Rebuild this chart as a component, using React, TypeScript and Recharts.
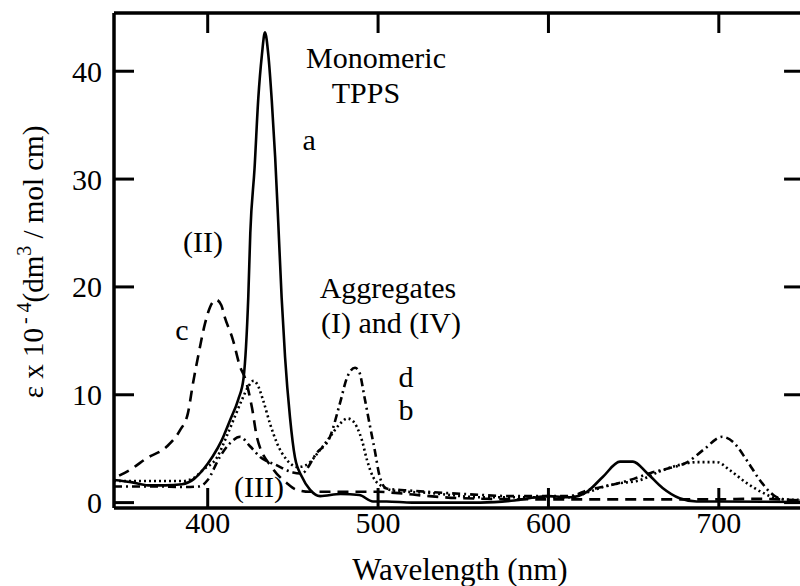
import React from 'react';
import { LineChart, Line, XAxis, YAxis, ReferenceDot, ReferenceLine } from 'recharts';

// ---- data (wavelength in nm, epsilon x 10^-4) ----
const wlA = [345, 355, 365, 375, 385, 392, 397, 403, 408, 413, 418, 421, 422.5, 423.8, 425, 427.5, 429.7, 431.8, 433.6, 435.6, 437.6, 439.6, 441.4, 443.4, 445.4, 448.3, 451.2, 455.3, 460, 466, 478, 489, 497, 505, 520, 560, 580, 593, 600, 612.7, 622.6, 632, 642, 649.6, 657.8, 667, 677, 687, 700, 750];
const epsA = [2.1, 1.9, 1.6, 1.6, 1.7, 2.2, 3.0, 4.3, 5.7, 7.6, 9.6, 11.5, 14.5, 19, 25, 31, 37.5, 41.5, 43.6, 41.5, 37.3, 32, 26, 19, 13.5, 7.9, 4.2, 2.4, 1.2, 0.6, 0.8, 0.7, 0.1, 0.1, 0, 0, 0.2, 0.5, 0.6, 0.5, 1.0, 2.4, 3.8, 3.8, 2.75, 1.35, 0.4, 0.1, 0.1, 0.05];

const wlB = [345, 360, 375, 385, 392, 397, 405.5, 411, 416, 420, 424, 427, 429, 432.5, 436.6, 440.7, 446.5, 453, 458, 466, 471.8, 477.6, 482, 485, 487.6, 490.5, 493.5, 497, 503, 510, 530, 560, 590, 612, 624, 632, 642, 652, 667, 677, 687, 699, 706.5, 716.5, 726, 734, 746, 750];
const epsB = [2.0, 2.0, 2.0, 2.0, 2.3, 3.0, 4.2, 6.1, 8.0, 9.5, 10.8, 11.3, 11.0, 9.5, 7.3, 5.5, 3.95, 3.3, 3.5, 4.9, 6.1, 7.3, 7.8, 7.6, 7.0, 5.8, 3.95, 2.4, 1.45, 1.1, 0.9, 0.5, 0.5, 0.5, 1.0, 1.45, 1.8, 2.0, 3.0, 3.5, 3.75, 3.75, 3.0, 1.8, 0.9, 0.4, 0.25, 0.25];

const wlC = [348, 355, 364, 376, 383.7, 388.4, 391.4, 394.3, 398.4, 401.3, 405, 408, 410, 414.8, 419, 422, 426, 429, 438, 446.5, 452, 460, 480, 500, 510, 530, 550, 600, 650, 700, 720, 750];
const epsC = [2.5, 3.1, 4.1, 5.2, 6.7, 8.3, 11.1, 13.5, 16.6, 18.1, 18.8, 18.3, 17.2, 15.1, 12.6, 11.5, 8.8, 6.0, 3.2, 1.8, 1.2, 1.0, 1.0, 1.0, 0.9, 0.6, 0.4, 0.3, 0.3, 0.3, 0.35, 0.2];

const wlD = [345, 370, 385, 395, 400, 407, 413, 419, 425, 431, 440, 450, 455, 464, 471.8, 477.6, 481.8, 486.5, 489, 492, 495, 498, 501, 505, 520, 550, 580, 600, 612, 624, 636, 650, 660, 671, 681, 691, 702, 708.5, 716.5, 724, 732, 740, 750];
const epsD = [1.5, 1.5, 1.45, 1.5, 2.1, 4.2, 5.5, 6.1, 5.2, 4.2, 3.5, 2.8, 2.7, 4.6, 6.1, 9.2, 11.6, 12.5, 12.1, 9.8, 7.3, 4.9, 2.4, 1.3, 1.1, 0.8, 0.6, 0.6, 0.6, 1.2, 1.6, 2.2, 2.75, 3.2, 3.7, 4.9, 6.1, 5.6, 3.9, 2.1, 0.7, 0.25, 0.2];

const xTicks = [400, 500, 600, 700];
const yTicks = [0, 10, 20, 30, 40];
const X_MIN = 345;
const X_MAX = 750;
const RIGHT_TICK_LEN_NM = 11.7;

const annotationTexts = ['Monomeric', 'TPPS', 'a', '(II)', 'Aggregates', '(I) and (IV)', 'c', 'd', 'b', '(III)'];
const annotationNm = [498.8, 492.9, 459.5, 397.2, 505.8, 507.6, 384.9, 516.4, 516.4, 430.1];
const annotationEps = [40.26, 37.1, 32.66, 23.21, 18.95, 15.71, 15.06, 10.71, 7.65, 0.52];

const build = (xs: number[], ys: number[]) => xs.map((nm, i) => ({ nm, v: ys[i] }));
const dataA = build(wlA, epsA);
const dataB = build(wlB, epsB);
const dataC = build(wlC, epsC);
const dataD = build(wlD, epsD);

// ---- styling ----
const FONT = "'Liberation Serif', 'Times New Roman', Times, serif";
const FS = 30;
const TICK = 20;
const TW = 3;
const AXW = 3.5;

const LeftTick = (p: any) => (
  <g>
    <line x1={p.x} y1={p.y} x2={p.x + TICK} y2={p.y} stroke="#000" strokeWidth={TW} />
    <text x={p.x - 12} y={p.y} dy="0.35em" textAnchor="end" fontSize={FS} fontFamily={FONT} fill="#000">
      {p.payload.value}
    </text>
  </g>
);
const BottomTick = (p: any) => (
  <g>
    <line x1={p.x} y1={p.y} x2={p.x} y2={p.y - TICK} stroke="#000" strokeWidth={TW} />
    <text x={p.x} y={p.y + 25} textAnchor="middle" fontSize={FS} fontFamily={FONT} fill="#000">
      {p.payload.value}
    </text>
  </g>
);
const TopTick = (p: any) => (
  <g>
    <line x1={p.x} y1={p.y} x2={p.x} y2={p.y + TICK} stroke="#000" strokeWidth={TW} />
  </g>
);

const AnnotShape = (text: string) => (p: any) => (
  <text x={p.cx} y={p.cy} textAnchor="middle" fontSize={30} fontFamily={FONT} fill="#000">
    {text}
  </text>
);

const YLabel = () => (
  <text transform="translate(43, 262) rotate(-90)" textAnchor="middle" fontSize={29} fontFamily={FONT} fill="#000">
    <tspan>ε x 10</tspan>
    <tspan dx="4" dy="-12" fontSize={20}>- 4</tspan>
    <tspan dy="12">(dm</tspan>
    <tspan dy="-12" fontSize={20}>3</tspan>
    <tspan dy="12"> / mol cm)</tspan>
  </text>
);

const XLabel = () => (
  <text x={460} y={580} textAnchor="middle" fontSize={31} fontFamily={FONT} fill="#000">
    Wavelength (nm)
  </text>
);

export default function App() {
  return (
    <div style={{ position: 'absolute', left: 0, top: 0, width: 800, height: 586, overflow: 'hidden', background: '#fff' }}>
      <LineChart width={830} height={586} margin={{ top: 12, left: 113, right: 26, bottom: 77 }}>
        <XAxis
          xAxisId="bottom"
          dataKey="nm"
          type="number"
          domain={[X_MIN, X_MAX]}
          ticks={xTicks}
          interval={0}
          allowDataOverflow
          height={1}
          tickSize={0}
          tickMargin={0}
          tickLine={false}
          axisLine={{ stroke: '#000', strokeWidth: AXW }}
          tick={BottomTick}
          label={{ content: () => <XLabel /> }}
        />
        <XAxis
          xAxisId="top"
          orientation="top"
          dataKey="nm"
          type="number"
          domain={[X_MIN, X_MAX]}
          ticks={xTicks}
          interval={0}
          allowDataOverflow
          height={1}
          tickSize={0}
          tickMargin={0}
          tickLine={false}
          axisLine={{ stroke: '#000', strokeWidth: AXW }}
          tick={TopTick}
        />
        <YAxis
          yAxisId="left"
          type="number"
          domain={[-0.5, 45.4]}
          ticks={yTicks}
          interval={0}
          allowDataOverflow
          width={1}
          tickSize={0}
          tickMargin={0}
          tickLine={false}
          axisLine={{ stroke: '#000', strokeWidth: AXW }}
          tick={LeftTick}
          label={{ content: () => <YLabel /> }}
        />
        {yTicks.map((t) => (
          <ReferenceLine
            key={'rt' + t}
            xAxisId="bottom"
            yAxisId="left"
            segment={[{ x: X_MAX - RIGHT_TICK_LEN_NM, y: t }, { x: X_MAX, y: t }]}
            stroke="#000"
            strokeWidth={TW}
            ifOverflow="visible"
          />
        ))}
        <Line xAxisId="bottom" yAxisId="left" data={dataC} dataKey="v" type="monotone" stroke="#000" strokeWidth={2.6} strokeDasharray="11 7" dot={false} isAnimationActive={false} />
        <Line xAxisId="bottom" yAxisId="left" data={dataD} dataKey="v" type="monotone" stroke="#000" strokeWidth={2.6} strokeDasharray="8 4 2 4" dot={false} isAnimationActive={false} />
        <Line xAxisId="bottom" yAxisId="left" data={dataB} dataKey="v" type="monotone" stroke="#000" strokeWidth={2.6} strokeDasharray="2 3" dot={false} isAnimationActive={false} />
        <Line xAxisId="bottom" yAxisId="left" data={dataA} dataKey="v" type="monotone" stroke="#000" strokeWidth={2.6} dot={false} isAnimationActive={false} />
        {annotationTexts.map((t, i) => (
          <ReferenceDot
            key={t}
            xAxisId="bottom"
            yAxisId="left"
            x={annotationNm[i]}
            y={annotationEps[i]}
            r={1}
            ifOverflow="visible"
            shape={AnnotShape(t)}
          />
        ))}
      </LineChart>
    </div>
  );
}
